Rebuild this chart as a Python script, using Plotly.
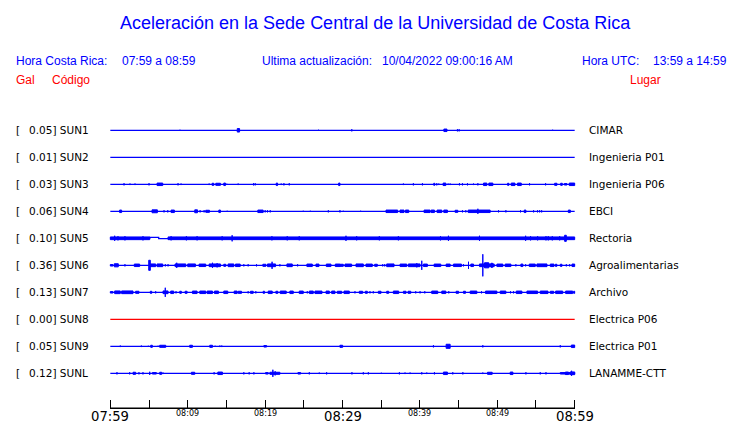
import plotly.graph_objects as go

# ---------------- data ----------------
codes = ["SUN1", "SUN2", "SUN3", "SUN4", "SUN5", "SUN6", "SUN7", "SUN8", "SUN9", "SUNL"]
places = ["CIMAR", "Ingenieria P01", "Ingenieria P06", "EBCI", "Rectoria",
          "Agroalimentarias", "Archivo", "Electrica P06", "Electrica P01", "LANAMME-CTT"]
peak_gal = [0.05, 0.01, 0.03, 0.06, 0.10, 0.36, 0.13, 0.00, 0.05, 0.12]
online = [True, True, True, True, True, True, True, False, True, True]

# time axis: minutes after 07:59
tick_minutes = [0, 5, 10, 15, 20, 25, 30, 35, 40, 45, 50, 55, 60]
label_minutes = [0, 10, 20, 30, 40, 50, 60]
label_text = ["07:59", "08:09", "08:19", "08:29", "08:39", "08:49", "08:59"]

# bursts: (start minute, end minute, half amplitude)
sun1_events = [(9.0, 9.0, 1), (16.4, 16.7, 2.2), (26.9, 26.9, 1), (31.2, 31.2, 1.5),
               (43.1, 43.5, 1.7), (44.85, 44.85, 1.5), (45.07, 45.07, 1.5), (57.15, 57.15, 1)]
sun2_events = []
sun3_events = [(1.77, 1.77, 1.5), (2.54, 2.54, 1.2), (3.19, 3.19, 1.2), (5.0, 5.0, 1.5), (6.04, 6.77, 1.7),
               (8.75, 8.75, 1.5), (9.14, 9.14, 1.2), (12.77, 12.77, 1.2), (13.15, 13.37, 1.5),
               (13.63, 14.23, 1.5), (14.66, 14.88, 1.7), (15.05, 15.05, 1), (16.52, 16.52, 1.2),
               (18.5, 18.5, 1.5), (18.72, 18.72, 1.5), (21.44, 21.61, 1.7), (22.08, 22.08, 1.2),
               (22.43, 22.43, 1.5), (23.12, 23.12, 1.5), (29.5, 29.67, 1.7), (37.87, 37.87, 1.2),
               (39.16, 39.16, 1.5), (40.33, 40.33, 1.5), (41.79, 41.92, 1.5), (42.18, 42.18, 1.5),
               (42.44, 42.44, 1.2), (43.0, 43.35, 1.7), (43.65, 43.65, 1.2), (43.91, 43.91, 1.2),
               (45.11, 45.11, 1.5), (45.5, 45.5, 1.5), (46.15, 46.15, 1.5), (46.93, 46.93, 1.2),
               (47.49, 47.49, 1.5), (48.22, 48.65, 1.7), (48.91, 49.43, 1.7), (51.33, 51.5, 1.5),
               (51.8, 52.28, 1.7), (52.62, 53.1, 1.7), (54.17, 54.17, 1.5), (56.24, 56.24, 1.5),
               (57.41, 57.71, 1.5), (58.19, 58.4, 1.5), (58.66, 59.0, 1.2), (59.3, 60.0, 1.7)]
sun4_events = [(1.2, 1.46, 1.7), (5.39, 6.08, 1.9), (6.94, 6.94, 1.5), (7.42, 7.42, 1.5), (7.85, 8.28, 1.7),
               (10.91, 11.26, 1.9), (11.6, 11.6, 1.5), (12.12, 12.12, 1.5), (12.33, 12.81, 1.5),
               (14.02, 14.23, 1.7), (15.1, 15.1, 1), (19.06, 19.75, 1.7), (20.01, 20.01, 1.5),
               (20.31, 20.31, 1.5), (20.66, 20.66, 1.5), (24.93, 24.93, 1), (25.84, 25.84, 1),
               (28.17, 28.17, 1.5), (29.67, 29.67, 1.5), (30.1, 30.1, 1), (32.34, 32.34, 1),
               (35.62, 37.13, 1.7), (37.43, 37.95, 1.7), (38.13, 38.56, 1.7), (40.54, 41.32, 1.7),
               (41.45, 41.88, 1.7), (42.22, 42.83, 1.7), (43.09, 43.56, 1.7), (44.55, 44.9, 1.5),
               (45.5, 45.5, 1.5), (45.93, 45.93, 1.5), (46.24, 49.08, 1.7), (47.49, 47.49, 3),
               (50.16, 50.16, 1.5), (51.11, 51.11, 1.5), (53.0, 53.0, 1.5), (53.48, 53.7, 1.7),
               (54.69, 54.69, 1.5), (55.2, 55.2, 1.5), (55.47, 55.47, 1.5), (55.73, 55.73, 1.5),
               (59.18, 59.44, 1.7)]
sun5_events = [(0, 5.09, 1.8), (7.46, 60, 1.8), (0.56, 0.56, 3), (0.99, 0.99, 2.5), (1.89, 1.89, 2.5),
               (4.22, 4.22, 2.5), (7.85, 7.85, 2.5), (9.83, 9.83, 2.5), (11.21, 11.21, 2.5),
               (14.45, 14.45, 2.5), (15.74, 15.74, 3.5), (20.88, 20.88, 2.5), (22.86, 22.86, 2.5),
               (24.41, 24.41, 2.5), (30.45, 30.45, 3), (31.83, 31.83, 2.5), (34.76, 34.76, 2.5),
               (37.22, 37.22, 2.5), (42.66, 42.66, 2.5), (43.69, 43.69, 3), (47.7, 47.7, 3),
               (53.66, 53.66, 3), (54.3, 54.3, 2.5), (55.21, 55.21, 2.5), (56.29, 56.29, 2.5),
               (56.59, 56.59, 2.5), (57.11, 57.11, 2.5), (58.06, 58.06, 2.5), (58.7, 58.92, 3.5)]
sun6_events = [(0, 0.34, 1.2), (0.51, 1.03, 2), (1.89, 1.89, 1.5), (3.1, 3.79, 1.7), (4.96, 5.17, 5.5),
               (5.17, 5.86, 1.8), (6.04, 6.77, 1.8), (7.11, 7.11, 1.5), (7.46, 7.46, 1.5), (8.36, 9.75, 1.8),
               (8.58, 8.58, 3), (10.0, 11.0, 1.8), (11.47, 12.33, 1.7), (12.77, 14.23, 1.8), (13.2, 13.2, 3),
               (13.8, 13.8, 2.5), (14.66, 14.92, 1.5), (15.22, 15.96, 1.8), (16.17, 16.78, 1.7),
               (17.25, 17.25, 1.5), (17.81, 17.81, 1.5), (18.89, 18.89, 1.5), (19.71, 20.1, 1.5),
               (20.31, 21.35, 1.8), (20.9, 20.9, 4), (21.91, 21.91, 1.5), (22.82, 23.51, 1.8),
               (24.2, 24.2, 1.5), (25.4, 26.1, 1.7), (26.57, 26.96, 1.7), (27.91, 28.51, 1.7),
               (29.07, 29.67, 1.7), (29.67, 30.1, 1.5), (30.32, 31.18, 1.7), (31.74, 32.69, 1.8),
               (33.03, 33.85, 1.7), (34.16, 34.5, 1.5), (35.19, 35.19, 1.5), (35.45, 35.45, 1.5),
               (35.71, 36.66, 1.8), (37.44, 38.3, 1.7), (38.51, 40.02, 1.8), (39.6, 39.6, 2.5),
               (40.24, 40.24, 5), (40.46, 40.97, 1.7), (41.84, 42.7, 1.7), (43.39, 43.91, 1.7),
               (44.34, 45.37, 1.7), (45.63, 45.63, 1.5), (46.28, 46.28, 4), (46.58, 46.93, 1.7),
               (47.7, 49.6, 1.8), (48.13, 48.13, 11.5), (48.35, 48.9, 3), (49.2, 49.4, 2.5),
               (49.95, 50.72, 1.7), (51.02, 51.76, 1.7), (52.4, 52.4, 1.5), (53.05, 53.31, 1.7),
               (53.66, 53.66, 1.5), (54.13, 54.91, 1.7), (55.12, 56.42, 1.8), (56.85, 57.32, 1.7),
               (57.5, 57.7, 1.5), (58.14, 58.36, 1.5), (58.92, 58.92, 1.5), (59.35, 59.35, 1.5),
               (59.65, 60, 1.7)]
sun7_events = [(0, 0.34, 1.2), (0.56, 1.29, 1.8), (1.46, 2.93, 1.8), (3.27, 3.7, 1.5), (5.17, 5.35, 1.5),
               (5.86, 5.86, 1.5), (6.81, 7.46, 1.8), (7.1, 7.1, 5), (7.8, 8.19, 1.7), (8.49, 8.49, 1.5),
               (8.97, 9.18, 1.5), (9.66, 9.92, 1.5), (10.61, 11.21, 1.7), (11.56, 12.33, 1.7),
               (12.51, 13.2, 1.7), (13.46, 13.97, 1.7), (14.66, 15.18, 1.7), (16.0, 16.39, 1.7),
               (16.52, 16.95, 1.5), (17.81, 17.81, 1.5), (18.11, 18.46, 1.5), (18.8, 18.8, 1.5),
               (19.75, 19.93, 1.5), (20.4, 20.92, 1.7), (21.39, 21.65, 1.5), (21.95, 22.73, 1.7),
               (23.2, 23.64, 1.7), (24.41, 24.93, 1.7), (25.45, 25.45, 1.5), (25.71, 26.22, 1.7),
               (26.44, 27.35, 1.7), (27.87, 28.3, 1.7), (28.6, 29.03, 1.7), (29.33, 29.67, 1.5),
               (29.67, 29.9, 1.5), (30.19, 30.88, 1.7), (31.61, 31.61, 1.5), (32.17, 32.6, 1.5),
               (32.95, 33.21, 1.5), (33.55, 33.55, 1.5), (33.98, 33.98, 1.5), (34.63, 34.98, 1.5),
               (35.71, 35.97, 1.5), (36.57, 37.26, 1.7), (37.87, 38.21, 1.5), (38.47, 38.82, 1.5),
               (39.46, 39.46, 1.5), (40.02, 40.02, 1.5), (40.63, 40.63, 1.5), (41.53, 42.31, 1.7),
               (42.83, 43.35, 1.7), (43.73, 43.73, 1.5), (44.68, 44.99, 1.5), (45.63, 45.89, 1.5),
               (46.5, 47.36, 1.7), (47.96, 47.96, 1.5), (48.48, 49.95, 1.7), (50.38, 51.11, 1.7),
               (51.71, 51.71, 1.5), (52.1, 52.1, 1.5), (52.45, 53.18, 1.7), (53.83, 55.21, 1.7),
               (55.55, 56.55, 1.7), (56.85, 57.28, 1.5), (57.54, 58.45, 1.7), (58.83, 59.74, 1.7),
               (59.87, 60, 1.5)]
sun8_events = []
sun9_events = [(1.29, 1.29, 1.2), (4.01, 4.01, 1.2), (4.91, 4.91, 1), (5.22, 5.43, 1.5), (6.17, 6.17, 1),
               (6.38, 7.16, 1.5), (10.26, 10.61, 1.5), (12.85, 13.2, 1.5), (13.54, 13.54, 1),
               (14.15, 14.15, 1.2), (14.4, 14.4, 1.2), (19.84, 20.19, 1.2), (29.67, 30.02, 1.5),
               (41.75, 41.75, 1.5), (43.39, 43.91, 2.5), (48.13, 48.13, 1.5), (58.14, 58.14, 1.5),
               (59.57, 60.0, 1.7)]
sunl_events = [(0.86, 0.86, 1.5), (2.5, 2.5, 1.5), (2.93, 3.27, 1.5), (3.7, 3.7, 1.5), (4.22, 4.22, 1.5),
               (5.09, 5.09, 2), (5.43, 5.95, 1.2), (6.38, 6.64, 1.5), (6.81, 6.81, 1.2), (10.48, 10.91, 1.5),
               (13.41, 13.41, 1.5), (13.89, 14.49, 1.7), (17.25, 17.25, 1.5), (17.94, 17.94, 1.5),
               (18.55, 18.55, 1.5), (20.06, 20.4, 1.2), (20.62, 21.91, 1.5), (21.0, 21.0, 4),
               (21.3, 21.3, 2.5), (24.24, 24.59, 1.2), (25.71, 25.71, 1.5), (27.0, 27.0, 1.2),
               (27.95, 27.95, 1.5), (31.22, 31.22, 1.5), (32.69, 32.69, 1.5), (33.34, 33.34, 1.5),
               (35.02, 35.02, 1), (37.35, 37.35, 1.5), (38.08, 38.08, 1.2), (38.73, 38.73, 1.2),
               (40.24, 40.24, 1.5), (40.89, 40.89, 1.2), (41.88, 41.88, 1.5), (43.04, 43.56, 1.7),
               (44.25, 44.25, 1.5), (45.55, 45.55, 1.5), (48.13, 48.13, 1.2), (48.74, 49.34, 1.5),
               (51.67, 52.02, 1.7), (53.7, 53.7, 1.5), (55.55, 55.55, 1.5), (56.29, 56.29, 1.5),
               (58.14, 60.0, 1.2), (58.8, 59.2, 1.7), (59.4, 60.0, 1.8), (59.6, 59.6, 3)]
events = [sun1_events, sun2_events, sun3_events, sun4_events, sun5_events,
          sun6_events, sun7_events, sun8_events, sun9_events, sunl_events]

# baseline drift (minute breakpoints, offsets); only Rectoria shows a step
sun5_base_x = [0, 5.09, 5.09, 6.25, 6.25, 60]
sun5_base_off = [0, 0, 1.0, 1.0, -0.3, -0.3]

# ---------------- layout helpers ----------------
W, H = 740, 423
X0, X1 = 110.7, 574.3          # pixel positions of 07:59 and 08:59
PAD = 0.3                       # minutes of padding so the end ticks survive
PPM = (X1 - X0) / 60.0
L, R = X0 - PAD * PPM, W - (X1 + PAD * PPM)
T, B = 120, 14
PW, PH = W - L - R, H - T - B
SP = 27.0  # px between traces


def pxx(x):
    return (x - L) / PW


def pxy(y):
    return (H - B - y) / PH


BLUE, RED = "#0000FF", "#FF0000"
fig = go.Figure()

for i, code in enumerate(codes):
    col = BLUE if online[i] else RED
    base = -i
    if code == "SUN5":
        bx = sun5_base_x
        by = [base + o / SP for o in sun5_base_off]
    else:
        bx = [0, 60]
        by = [base, base]
    fig.add_trace(go.Scatter(x=bx, y=by, mode="lines", line=dict(color=col, width=1.3),
                             hoverinfo="skip", showlegend=False))
    xs, ys = [], []
    for t0, t1, a in events[i]:
        h = max(a - 0.45, 0.5) / SP
        xs += [t0, t1, t1, t0, t0, None]
        ys += [base - h, base - h, base + h, base + h, base - h, None]
    if xs:
        fig.add_trace(go.Scatter(x=xs, y=ys, mode="lines", fill="toself", fillcolor=col,
                                 line=dict(color=col, width=1), hoverinfo="skip", showlegend=False))

ann = []
for i, code in enumerate(codes):
    yp = -i
    ann.append(dict(x=pxx(15), xref="paper", y=yp, yref="y", text="[", showarrow=False,
                    xanchor="left", yanchor="middle", font=dict(family="DejaVu Sans", size=10.5, color="black")))
    ann.append(dict(x=pxx(27.3), xref="paper", y=yp, yref="y", text=f"{peak_gal[i]:.2f}] {code}",
                    showarrow=False, xanchor="left", yanchor="middle",
                    font=dict(family="DejaVu Sans", size=10.5, color="black")))
    ann.append(dict(x=pxx(587), xref="paper", y=yp, yref="y", text=places[i], showarrow=False,
                    xanchor="left", yanchor="middle", font=dict(family="DejaVu Sans", size=10.5, color="black")))

for m, txt in zip(label_minutes, label_text):
    big = (m % 30 == 0)
    ann.append(dict(x=m, xref="x", y=pxy(416 if big else 413), yref="paper", text=txt, showarrow=False,
                    xanchor="center", yanchor="middle",
                    font=dict(family="DejaVu Sans", size=13.2 if big else 8, color="black")))


def hdr(x, y, text, color=BLUE, size=12, anchor="left"):
    ann.append(dict(x=pxx(x), xref="paper", y=pxy(y), yref="paper", text=text, showarrow=False,
                    xanchor=anchor, yanchor="middle",
                    font=dict(family="Liberation Sans", size=size, color=color)))


hdr(375, 22.5, "Aceleración en la Sede Central de la Universidad de Costa Rica", size=18, anchor="center")
hdr(15, 61, "Hora Costa Rica:")
hdr(120, 61, "07:59 a 08:59")
hdr(260, 61, "Ultima actualización:")
hdr(380, 61, "10/04/2022 09:00:16 AM")
hdr(580, 61, "Hora UTC:")
hdr(650, 61, "13:59 a 14:59")
hdr(15, 80, "Gal", color=RED)
hdr(50, 80, "Código", color=RED)
hdr(628, 80, "Lugar", color=RED)

fig.update_layout(
    width=W, height=H, margin=dict(l=L, r=R, t=T, b=B, pad=0),
    paper_bgcolor="white", plot_bgcolor="white", annotations=ann,
    xaxis=dict(range=[-PAD, 60 + PAD], tickvals=tick_minutes, ticks="inside", ticklen=9, tickwidth=1,
               tickcolor="black", showticklabels=False, showline=False,
               showgrid=False, zeroline=False, fixedrange=True),
    yaxis=dict(range=[-(409 - 130.3) / SP, (130.3 - 120) / SP], visible=False, showgrid=False,
               zeroline=False, fixedrange=True),
    shapes=[dict(type="line", xref="x", yref="paper", x0=tick_minutes[0], x1=tick_minutes[-1],
                 y0=pxy(408.3), y1=pxy(408.3), line=dict(color="black", width=1.4), layer="above")],
)
fig.write_html("out.html", config={"displayModeBar": False},
               post_script="document.body.style.margin='0';document.body.style.overflow='hidden';")
